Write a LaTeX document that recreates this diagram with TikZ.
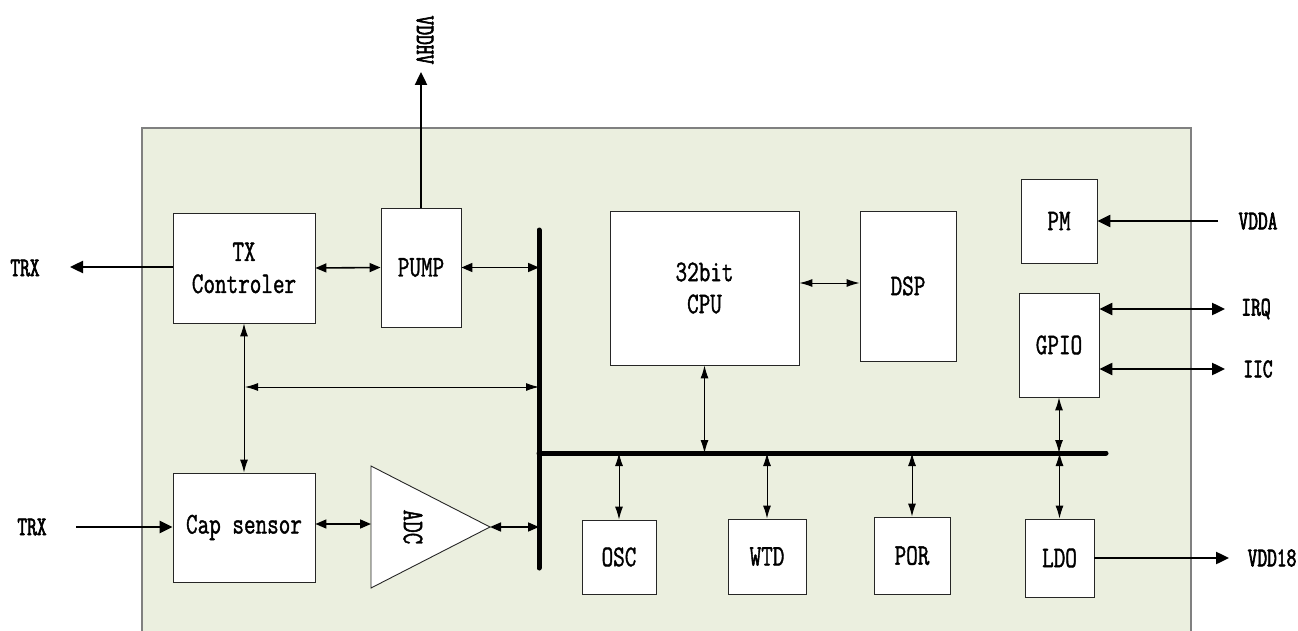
\documentclass[tikz,border=0pt]{standalone}
\usepackage{fontspec}
\usetikzlibrary{arrows.meta}
\newfontfamily\boxfont[FakeStretch=0.75,FakeBold=1.3]{Latin Modern Mono}
\newfontfamily\pinfont[FakeStretch=0.70,FakeBold=2.4]{Latin Modern Mono}
\definecolor{chipbg}{RGB}{235,239,223}
\definecolor{chipedge}{RGB}{128,128,128}
\tikzset{
  blk/.style={draw=black!85, fill=white, line width=0.9pt, inner sep=0pt, align=center,
    font=\boxfont\fontsize{30}{32}\selectfont},
  pin/.style={font=\pinfont\fontsize{27}{28}\selectfont, inner sep=0pt},
  ext/.style={line width=2.4pt, -{Triangle[length=13pt,width=12pt]}},
  extb/.style={line width=2.4pt, {Triangle[length=13pt,width=12pt]}-{Triangle[length=13pt,width=12pt]}},
  mid/.style={line width=1.6pt, {Triangle[length=11pt,width=9pt]}-{Triangle[length=11pt,width=9pt]}},
  thin/.style={line width=1pt, {Latex[length=13pt,width=8pt]}-{Latex[length=13pt,width=8pt]}},
  bus/.style={line width=5pt, line cap=round}
}
\begin{document}
\begin{tikzpicture}[x=1pt,y=-1pt]
\useasboundingbox (0,0) rectangle (1298,631);
% chip background
\draw[fill=chipbg, draw=chipedge, line width=1.2pt] (142,128) rectangle (1191,660);

% blocks
\node[blk, minimum width=142pt, minimum height=110pt] (tx) at (244,268) {TX\\Controler};
\node[blk, minimum width=80pt, minimum height=119pt] (pump) at (421,267.5) {PUMP};
\node[blk, minimum width=142pt, minimum height=109pt] (cap) at (244,527.5) {Cap sensor};
\node[blk, minimum width=189pt, minimum height=154pt] (cpu) at (704.5,288) {32bit\\CPU};
\node[blk, minimum width=96pt, minimum height=150pt] (dsp) at (908,286) {DSP};
\node[blk, minimum width=76pt, minimum height=84pt] (pm) at (1059,221) {PM};
\node[blk, minimum width=80pt, minimum height=104pt] (gpio) at (1059,345) {GPIO};
\node[blk, minimum width=69pt, minimum height=78pt] (ldo) at (1059.5,558) {LDO};
\node[blk, minimum width=74pt, minimum height=74pt] (osc) at (619,557) {OSC};
\node[blk, minimum width=78pt, minimum height=75pt] (wtd) at (767,556.5) {WTD};
\node[blk, minimum width=76pt, minimum height=77pt] (por) at (912,555.5) {POR};

% ADC triangle
\coordinate (adcT) at (371,466);
\coordinate (adcB) at (371,588);
\coordinate (adcA) at (490,527);
\draw[fill=white, draw=black!85, line width=0.9pt] (adcT) -- (adcA) -- (adcB) -- cycle;
\node[blk, draw=none, fill=none, rotate=-90] (adc) at (413,527) {ADC};

% buses
\coordinate (bvT) at (539,230);
\coordinate (bvB) at (539,568);
\coordinate (bhL) at (539,453);
\coordinate (bhR) at (1106,453);
\draw[bus] (bvT) -- (bvB);
\draw[bus] (bhL) -- (bhR);

% internal connections
\draw[mid] (tx.east) -- (pump.west);
\draw[mid] (pump.east) -- (pump.east -| bvT);
\draw[thin] (tx.south) -- (cap.north);
\coordinate (xj) at (245,387);
\draw[thin] (xj) -- (xj -| bvT);
\draw[mid] (cap.east |- 0,524) -- (adcT |- 0,524);
\draw[mid] (adcA) -- (adcA -| bvT);
\draw[thin] (dsp.west |- 0,283) -- (cpu.east |- 0,283) ;
\draw[thin] (cpu.south) -- (cpu.south |- bhL);
\draw[thin] (osc.north) -- (osc.north |- bhL);
\draw[thin] (wtd.north) -- (wtd.north |- bhL);
\draw[thin] (por.north) -- (por.north |- bhL);
\draw[thin] (gpio.south) -- (gpio.south |- bhL);
\draw[thin] (ldo.north |- bhL) -- (ldo.north);

% external pins
\coordinate (vddhvP) at (421,72);
\draw[ext] (pump.north) -- (vddhvP);
\node[pin, rotate=-90] (vddhv) at (425,40) {VDDHV};

\coordinate (trxoP) at (70,267);
\draw[ext] (tx.west |- trxoP) -- (trxoP);
\node[pin] (trxo) at (25,268) {TRX};

\coordinate (trxiP) at (76,527);
\draw[ext] (trxiP) -- (cap.west |- trxiP);
\node[pin] (trxi) at (32,527) {TRX};

\coordinate (vddaP) at (1218,221);
\draw[ext] (vddaP) -- (pm.east |- vddaP);
\node[pin] (vdda) at (1258,221) {VDDA};

\coordinate (irqP) at (1225,309);
\draw[extb] (gpio.east |- irqP) -- (irqP);
\node[pin] (irq) at (1256,309) {IRQ};

\coordinate (iicP) at (1225,369);
\draw[extb] (gpio.east |- iicP) -- (iicP);
\node[pin] (iic) at (1258,369) {IIC};

\coordinate (vdd18P) at (1229,558);
\draw[ext] (ldo.east |- vdd18P) -- (vdd18P);
\node[pin] (vdd18) at (1272,558) {VDD18};
\end{tikzpicture}
\end{document}
